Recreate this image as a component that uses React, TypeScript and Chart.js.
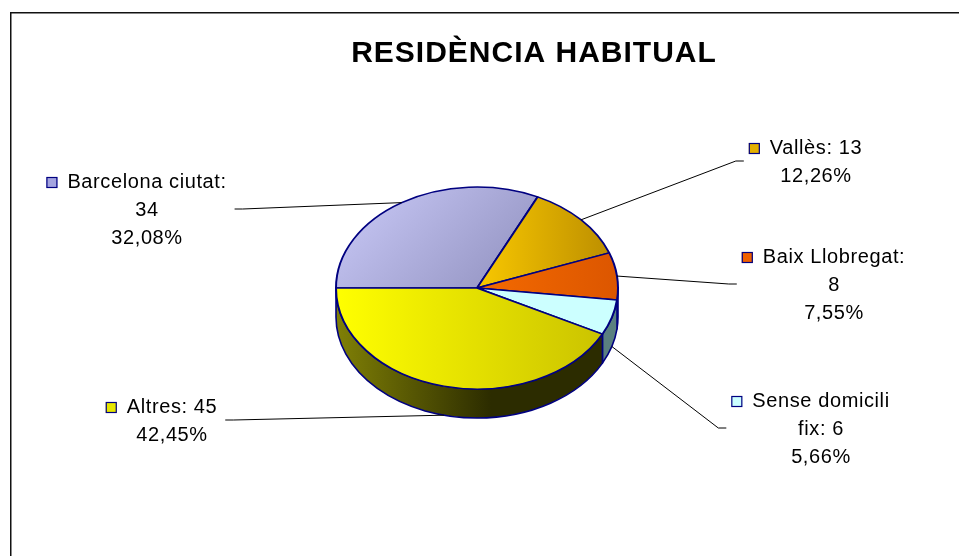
import { useEffect, useRef } from "react";
import { Chart, registerables } from "chart.js";

Chart.register(...registerables);

// ---- data ----
const categories = ["Barcelona ciutat", "Vallès", "Baix Llobregat", "Sense domicili fix", "Altres"];
const counts = [34, 13, 8, 6, 45];
const chartTitle = "RESIDÈNCIA HABITUAL";

// ---- styles / layout ----
const W = 959;
const H = 556;
const CX = 477;
const CY = 288;
const R = 141;
const RY = 101;
const DEPTH = 29;
const K = RY / R;
const ROTATION = -90;
const topLight = ["#cbcbf9", "#f9c800", "#f46a00", "#ccffff", "#ffff00"];
const topDark = ["#8f8fbd", "#bd8f00", "#dc5600", "#ccffff", "#cbc300"];
const topDiagonal = [true, false, false, false, false];
const sideLight = ["#6a6a90", "#8a6800", "#8a3a00", "#6a9292", "#808006"];
const sideDark = ["#3a3a60", "#4a3800", "#6a2800", "#5a8080", "#2c2c00"];
const keyColor = ["#a4a4e0", "#e4b000", "#f06000", "#ccffff", "#e6e600"];
const labelCenterX = [147, 816, 834, 821, 172];
const labelFirstBaseline = [188, 154, 263, 407, 413];
const labelWrapWidth = [165, 220, 145, 150, 220];
const LINE_H = 28;
const LABEL_FONT = '20px "Liberation Sans", Arial, sans-serif';
const TITLE_FONT = 'bold 30px "Liberation Sans", Arial, sans-serif';
const OUTLINE = "#000080";

function percentText(v: number, total: number) {
  return (v / total * 100).toFixed(2).replace(".", ",") + "%";
}

function wrapText(ctx: CanvasRenderingContext2D, text: string, maxW: number) {
  const words = text.split(" ");
  const lines: string[] = [];
  let cur = "";
  for (const w of words) {
    const test = cur ? cur + " " + w : w;
    if (cur && ctx.measureText(test).width > maxW) {
      lines.push(cur);
      cur = w;
    } else cur = test;
  }
  if (cur) lines.push(cur);
  return lines;
}

export default function App() {
  const ref = useRef<HTMLCanvasElement>(null);

  useEffect(() => {
    const canvas = ref.current!;
    const total = counts.reduce((a, b) => a + b, 0);
    const startRad = (ROTATION - 90) * Math.PI / 180;
    const angles: [number, number][] = [];
    let acc = 0;
    counts.forEach((v) => {
      const s = startRad + (acc / total) * 2 * Math.PI;
      acc += v;
      angles.push([s, startRad + (acc / total) * 2 * Math.PI]);
    });

    const gradFor = (c: any) => {
      const chart = c.chart;
      const area = chart.chartArea;
      const i = c.dataIndex ?? 0;
      if (!area) return topLight[i];
      const cx = (area.left + area.right) / 2;
      const cy = (area.top + area.bottom) / 2;
      const [s, e] = angles[i];
      const pts: number[][] = [[cx, cy], [cx + R * Math.cos(s), cy + R * Math.sin(s)], [cx + R * Math.cos(e), cy + R * Math.sin(e)]];
      for (let q = -2; q <= 2; q++) {
        const a = (q * Math.PI) / 2;
        if (a > s && a < e) pts.push([cx + R * Math.cos(a), cy + R * Math.sin(a)]);
      }
      const xs = pts.map((p) => p[0]);
      const ys = pts.map((p) => p[1]);
      const xmin = Math.min(...xs), xmax = Math.max(...xs);
      const ymin = Math.min(...ys), ymax = Math.max(...ys);
      const g = topDiagonal[i]
        ? chart.ctx.createLinearGradient(xmin, ymin, xmax, ymax)
        : chart.ctx.createLinearGradient(xmin, 0, xmax, 0);
      g.addColorStop(0, topLight[i]);
      g.addColorStop(1, topDark[i]);
      return g;
    };

    const pie3d = {
      id: "pie3d",
      beforeDraw(chart: any) {
        const ctx = chart.ctx;
        ctx.save();
        ctx.strokeStyle = "#111";
        ctx.lineWidth = 1.5;
        ctx.beginPath();
        ctx.moveTo(10.75, H + 5);
        ctx.lineTo(10.75, 12.75);
        ctx.lineTo(W + 5, 12.75);
        ctx.stroke();
        ctx.restore();
      },
      beforeDatasetsDraw(chart: any) {
        const ctx = chart.ctx;
        const meta = chart.getDatasetMeta(0);
        meta.data.forEach((arc: any, i: number) => {
          const p = arc.getProps(["x", "y", "startAngle", "endAngle", "outerRadius"], true);
          const rx = p.outerRadius;
          const ry = p.outerRadius * K;
          const segs: [number, number][] = [];
          for (const off of [-2 * Math.PI, 0, 2 * Math.PI]) {
            const a = Math.max(p.startAngle + off, 0);
            const b = Math.min(p.endAngle + off, Math.PI);
            if (b > a) segs.push([a, b]);
          }
          segs.forEach(([a, b]) => {
            ctx.save();
            ctx.beginPath();
            ctx.ellipse(p.x, p.y, rx, ry, 0, a, b, false);
            ctx.lineTo(p.x + rx * Math.cos(b), p.y + ry * Math.sin(b) + DEPTH);
            ctx.ellipse(p.x, p.y + DEPTH, rx, ry, 0, b, a, true);
            ctx.closePath();
            const g = ctx.createLinearGradient(p.x - rx, 0, p.x + rx, 0);
            g.addColorStop(0, sideLight[i]);
            g.addColorStop(0.55, sideDark[i]);
            g.addColorStop(1, sideDark[i]);
            ctx.fillStyle = g;
            ctx.fill();
            ctx.strokeStyle = OUTLINE;
            ctx.lineWidth = 1.6;
            ctx.lineJoin = "round";
            ctx.stroke();
            ctx.restore();
          });
        });
        const first = meta.data[0];
        ctx.save();
        ctx.translate(first.x, first.y);
        ctx.scale(1, K);
        ctx.translate(-first.x, -first.y);
      },
      afterDatasetsDraw(chart: any) {
        const ctx = chart.ctx;
        ctx.restore();
        const meta = chart.getDatasetMeta(0);
        ctx.save();
        ctx.font = LABEL_FONT;
        (ctx as any).letterSpacing = "0.6px";
        ctx.textBaseline = "alphabetic";
        ctx.textAlign = "center";
        meta.data.forEach((arc: any, i: number) => {
          const p = arc.getProps(["x", "y", "startAngle", "endAngle", "outerRadius"], true);
          const lines = wrapText(ctx, `${categories[i]}: ${counts[i]}`, labelWrapWidth[i]);
          lines.push(percentText(counts[i], total));
          const lx = labelCenterX[i];
          const by = labelFirstBaseline[i];
          const widths = lines.map((l) => ctx.measureText(l).width);
          const wmax = Math.max(...widths);
          const keyLeft = lx - widths[0] / 2 - 21;
          // leader line
          const m = (p.startAngle + p.endAngle) / 2;
          const ax = p.x + p.outerRadius * Math.cos(m);
          const ay = p.y + p.outerRadius * K * Math.sin(m) + (Math.sin(m) > 0.05 ? DEPTH : 0);
          const midY = by + ((lines.length - 1) * LINE_H) / 2 - 7;
          let cx: number, ex: number;
          if (lx < p.x) {
            cx = lx + wmax / 2 + 8;
            ex = cx + 8;
          } else {
            cx = Math.min(keyLeft, lx - wmax / 2) - 5;
            ex = cx - 8;
          }
          ctx.strokeStyle = "#000";
          ctx.lineWidth = 1;
          ctx.beginPath();
          ctx.moveTo(ax, ay);
          ctx.lineTo(ex, midY);
          ctx.lineTo(cx, midY);
          ctx.stroke();
          // legend key
          ctx.fillStyle = keyColor[i];
          ctx.fillRect(keyLeft, by - 11, 11, 11);
          ctx.strokeStyle = OUTLINE;
          ctx.lineWidth = 1.2;
          ctx.strokeRect(keyLeft + 0.5, by - 10.5, 10, 10);
          // text
          ctx.fillStyle = "#000";
          lines.forEach((l, j) => ctx.fillText(l, lx, by + j * LINE_H));
        });
        ctx.font = TITLE_FONT;
        (ctx as any).letterSpacing = "1px";
        ctx.fillText(chartTitle, 534, 62);
        ctx.restore();
      },
    };

    const chart = new Chart(canvas, {
      type: "pie",
      data: {
        labels: categories,
        datasets: [
          {
            data: counts,
            backgroundColor: gradFor as any,
            borderColor: OUTLINE,
            borderWidth: 2,
            clip: false as any,
          },
        ],
      },
      options: {
        animation: false,
        responsive: false,
        devicePixelRatio: 1,
        rotation: ROTATION,
        radius: R,
        layout: { padding: { left: CX - R, right: W - CX - R, top: CY - R, bottom: H - CY - R } },
        plugins: { legend: { display: false }, tooltip: { enabled: false }, title: { display: false } },
        events: [],
      } as any,
      plugins: [pie3d],
    });
    return () => chart.destroy();
  }, []);

  return (
    <div style={{ position: "fixed", left: 0, top: 0, width: W, height: H, background: "#fff" }}>
      <canvas ref={ref} width={W} height={H} style={{ display: "block", width: W, height: H }} />
    </div>
  );
}
